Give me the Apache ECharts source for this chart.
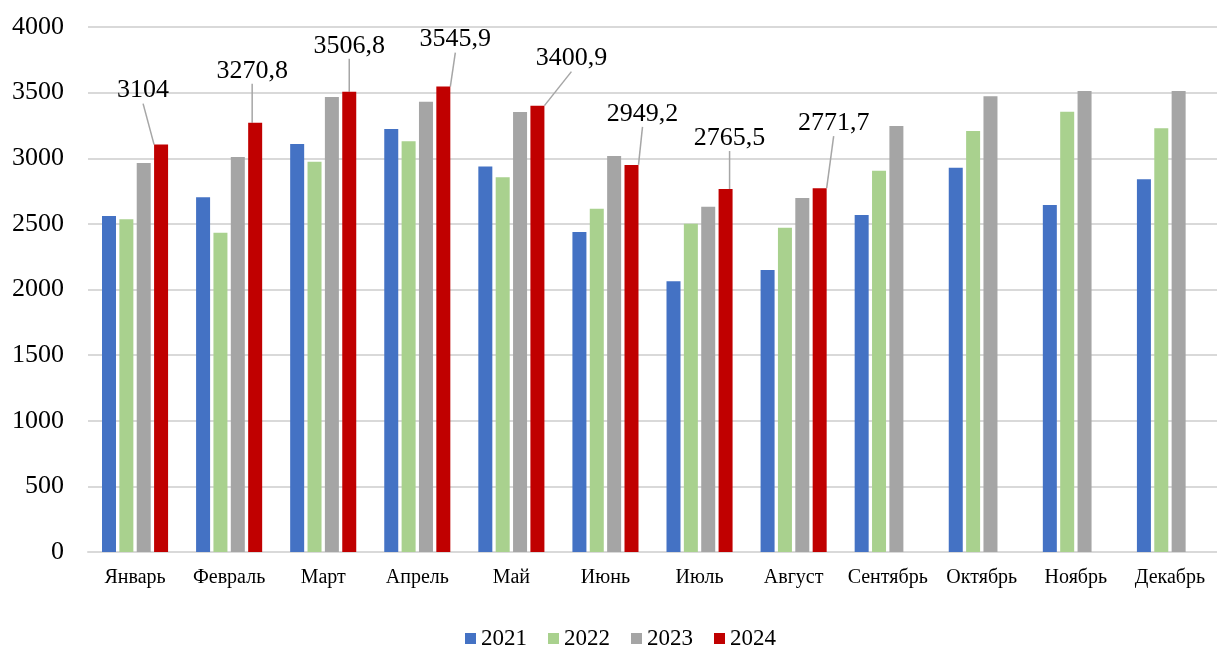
<!DOCTYPE html>
<html>
<head>
<meta charset="utf-8">
<script src="https://cdn.jsdelivr.net/npm/echarts@6/dist/echarts.min.js"></script>
<style>
  html, body { margin: 0; padding: 0; background: #fff; }
  #chart { width: 1217px; height: 646px; }
</style>
</head>
<body>
<div id="chart"></div>
<script>
var months = ['Январь', 'Февраль', 'Март', 'Апрель', 'Май', 'Июнь', 'Июль', 'Август', 'Сентябрь', 'Октябрь', 'Ноябрь', 'Декабрь'];
var years = ['2021', '2022', '2023', '2024'];
var yTicks = [0, 500, 1000, 1500, 2000, 2500, 3000, 3500, 4000];

var v2021 = [2560, 2702, 3109, 3223, 2938, 2438, 2062, 2149, 2568, 2928, 2644, 2840];
var v2022 = [2535, 2433, 2974, 3129, 2855, 2616, 2501, 2471, 2905, 3208, 3355, 3228];
var v2023 = [2964, 3010, 3467, 3431, 3352, 3017, 2631, 2697, 3246, 3472, 3512, 3512];
var v2024 = [3104, 3270.8, 3506.8, 3545.9, 3400.9, 2949.2, 2765.5, 2771.7, null, null, null, null];

// where each 2024 label sits relative to the top of its bar
var labelShift = [[-18, -54], [-3, -52], [0, -46], [12, -47], [34, -47], [11, -51], [4, -51], [14, -65]];

var colors = ['#4472C4', '#A9D18E', '#A5A5A5', '#C00000'];
var font = 'Liberation Serif';

var chart = echarts.init(document.getElementById('chart'));

function makeSeries(name, data, idx) {
    return {
        name: name,
        type: 'bar',
        data: data,
        barWidth: 14,
        barGap: '24%',
        itemStyle: { color: colors[idx] },
        emphasis: { disabled: true }
    };
}

var series = [
    makeSeries(years[0], v2021, 0),
    makeSeries(years[1], v2022, 1),
    makeSeries(years[2], v2023, 2),
    makeSeries(years[3], v2024, 3)
];

series[3].label = {
    show: true,
    position: 'top',
    distance: 0,
    verticalAlign: 'middle',
    fontFamily: font,
    fontSize: 26,
    color: '#000',
    formatter: function (p) {
        return String(p.value).replace('.', ',');
    }
};
series[3].labelLine = {
    show: true,
    lineStyle: { color: '#A6A6A6', width: 1.5 }
};
series[3].labelLayout = function (p) {
    var s = labelShift[p.dataIndex] || [0, 0];
    return { dx: s[0], dy: s[1] };
};

chart.setOption({
    animation: false,
    color: colors,
    textStyle: { fontFamily: font },
    grid: {
        left: 88,
        width: 1140,
        top: 27,
        bottom: 94
    },
    legend: {
        data: years,
        top: 622,
        left: 460,
        itemWidth: 11,
        itemHeight: 11,
        itemGap: 21,
        icon: 'rect',
        textStyle: { fontFamily: font, fontSize: 23, color: '#000' }
    },
    xAxis: {
        type: 'category',
        data: months,
        axisTick: { show: false },
        axisLine: { lineStyle: { color: '#D9D9D9', width: 2 } },
        axisLabel: { fontFamily: font, fontSize: 20, color: '#000', margin: 16, interval: 0 }
    },
    yAxis: {
        type: 'value',
        min: yTicks[0],
        max: yTicks[yTicks.length - 1],
        interval: yTicks[1] - yTicks[0],
        axisLine: { show: false },
        axisTick: { show: false },
        axisLabel: {
            fontFamily: font, fontSize: 26, color: '#000', margin: 24,
            formatter: function (v) { return String(v); }
        },
        splitLine: { lineStyle: { color: '#D9D9D9', width: 2 } }
    },
    series: series
});
</script>
</body>
</html>
